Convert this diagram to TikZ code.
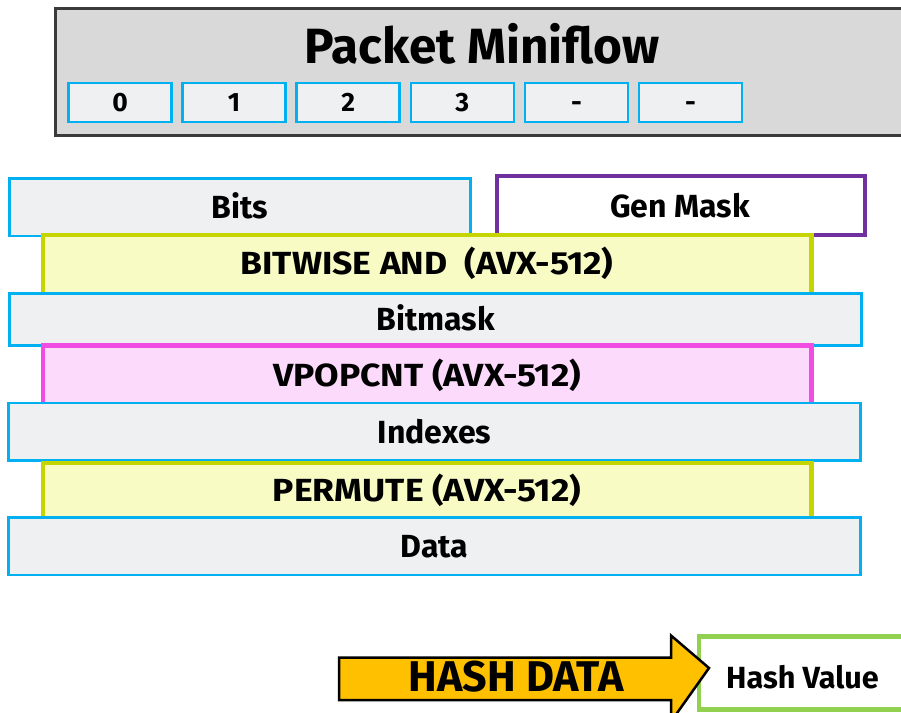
\documentclass[tikz,border=0pt]{standalone}
\usepackage{fontspec}
\setmainfont{Fira Sans}
\definecolor{frame}{HTML}{3A3A3A}
\definecolor{panel}{HTML}{D9D9D9}
\definecolor{cellfill}{HTML}{EFF0F2}
\definecolor{cyanline}{HTML}{00B0F0}
\definecolor{ylwline}{HTML}{C6D500}
\definecolor{ylwfill}{HTML}{F8FCC4}
\definecolor{pinkline}{HTML}{F24DE3}
\definecolor{pinkfill}{HTML}{FCDAFB}
\definecolor{purpleline}{HTML}{7030A0}
\definecolor{greenline}{HTML}{92D050}
\definecolor{arrowfill}{HTML}{FFC000}
% wider setting for the all-caps operation names
\newcommand{\opname}[1]{\scalebox{1.11}[1]{#1}}
\tikzset{
  plate/.style={rectangle, inner sep=0pt, outer sep=0pt},
  datarow/.style={plate, draw=cyanline, fill=cellfill, line width=2.5pt},
  andop/.style={plate, draw=ylwline, fill=ylwfill, line width=4.5pt},
  popop/.style={plate, draw=pinkline, fill=pinkfill, line width=4.5pt},
  lbl/.style={inner sep=0pt, anchor=center, text height=22pt, text depth=0pt,
    font=\bfseries\fontsize{32}{32}\selectfont},
}
\begin{document}
\begin{tikzpicture}[x=1pt, y={(0pt,-1pt)}]
\clip (0,0) rectangle (901,712);

% miniflow header panel with its six slots
\node[plate, draw=frame, fill=panel, line width=2.5pt,
  minimum width=854.5pt, minimum height=127pt] (panel) at (482.75,72) {};
\node[inner sep=0pt, text height=34pt, text depth=0pt,
  font=\bfseries\fontsize{49.5}{49.5}\selectfont] (title) at (482,46) {Packet Miniflow};
\foreach \i/\t in {0/0,1/1,2/2,3/3,4/-,5/-}{
  \node[datarow, minimum width=103pt, minimum height=39pt] (slot\i) at (120+114.1*\i,102.5) {};
  \node[inner sep=0pt, text height=18.3pt, text depth=0pt,
    font=\bfseries\fontsize{26.5}{26.5}\selectfont] (slott\i) at (slot\i.center) {\t};
}

% stacked data rows and the AVX-512 operations between them
\node[datarow, minimum width=461pt, minimum height=57.5pt] (bits) at (240,207.25) {};
\node[lbl] (bitst) at (240,207) {Bits};
\node[plate, draw=purpleline, fill=white, line width=4pt,
  minimum width=367.7pt, minimum height=59.3pt] (gen) at (680.85,205.65) {};
\node[lbl] (gent) at (680,206) {Gen Mask};

\node[andop, minimum width=768.7pt, minimum height=62pt] (band) at (427.35,266) {};
\node[lbl] (bandt) at (427,263.5) {\opname{BITWISE AND\ \ (AVX-512)}};

\node[datarow, minimum width=852pt, minimum height=52pt] (bitmask) at (435.5,319.5) {};
\node[lbl] (bitmaskt) at (435.5,319.5) {Bitmask};

\node[popop, minimum width=768.7pt, minimum height=61.5pt] (popc) at (427.35,376.25) {};
\node[lbl] (popct) at (427,375) {\opname{VPOPCNT (AVX-512)}};

\node[datarow, minimum width=852.2pt, minimum height=57.5pt] (idx) at (434.4,431.75) {};
\node[lbl] (idxt) at (434.4,432) {Indexes};

\node[andop, minimum width=768.7pt, minimum height=60pt] (perm) at (427.35,493) {};
\node[lbl] (permt) at (427,490) {\opname{PERMUTE (AVX-512)}};

\node[datarow, minimum width=852.2pt, minimum height=57.5pt] (data) at (434.4,546) {};
\node[lbl] (datat) at (434.4,546) {Data};

% hashing step
\node[plate, draw=greenline, fill=white, line width=4.5pt,
  minimum width=212pt, minimum height=73pt] (hash) at (805,673) {};
\node[lbl, text height=21pt, font=\bfseries\fontsize{30.6}{30.6}\selectfont] (hasht) at (802.5,678) {Hash Value};

\coordinate (tip) at ([xshift=10pt,yshift=5pt]hash.west);
\draw[line width=2.5pt, fill=arrowfill, line join=miter]
  (339,657.5) -- (671,657.5) -- (671,635.5) -- (tip) -- (671,721.5)
  -- (671,700) -- (339,700) -- cycle;
\node[lbl, text height=29.6pt, font=\bfseries\fontsize{43}{43}\selectfont] (hdata) at (516,676.5) {HASH DATA};
\end{tikzpicture}
\end{document}
